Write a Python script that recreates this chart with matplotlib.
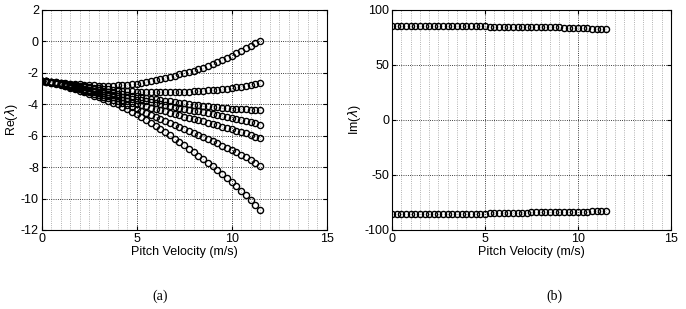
import matplotlib
matplotlib.use("Agg")
import matplotlib.pyplot as plt
from matplotlib.ticker import MultipleLocator

# pitch velocity samples (m/s)
velocity = [0.0, 0.25, 0.5, 0.75, 1.0, 1.25, 1.5, 1.75, 2.0, 2.25, 2.5, 2.75,
            3.0, 3.25, 3.5, 3.75, 4.0, 4.25, 4.5, 4.75, 5.0, 5.25, 5.5, 5.75,
            6.0, 6.25, 6.5, 6.75, 7.0, 7.25, 7.5, 7.75, 8.0, 8.25, 8.5, 8.75,
            9.0, 9.25, 9.5, 9.75, 10.0, 10.25, 10.5, 10.75, 11.0, 11.25, 11.5]

# real parts of the eigenvalues, one list per branch
re_1 = [-2.50, -2.53, -2.56, -2.59, -2.62, -2.65, -2.68, -2.71, -2.74, -2.76, -2.78, -2.80,
        -2.82, -2.82, -2.82, -2.81, -2.80, -2.78, -2.75, -2.72, -2.68, -2.63, -2.57, -2.51,
        -2.45, -2.38, -2.32, -2.25, -2.18, -2.10, -2.02, -1.94, -1.86, -1.77, -1.67, -1.56,
        -1.45, -1.32, -1.18, -1.04, -0.90, -0.75, -0.60, -0.44, -0.28, -0.12, 0.05]
re_2 = [-2.50, -2.54, -2.58, -2.61, -2.65, -2.69, -2.74, -2.78, -2.82, -2.86, -2.90, -2.94,
        -2.98, -3.02, -3.05, -3.09, -3.12, -3.14, -3.16, -3.18, -3.20, -3.21, -3.21, -3.22,
        -3.22, -3.22, -3.22, -3.22, -3.22, -3.21, -3.20, -3.19, -3.18, -3.16, -3.14, -3.12,
        -3.10, -3.07, -3.04, -3.00, -2.97, -2.92, -2.88, -2.83, -2.78, -2.72, -2.65]
re_3 = [-2.50, -2.54, -2.58, -2.63, -2.67, -2.72, -2.78, -2.83, -2.88, -2.93, -2.99, -3.04,
        -3.10, -3.16, -3.21, -3.27, -3.32, -3.37, -3.41, -3.46, -3.50, -3.55, -3.59, -3.64,
        -3.68, -3.73, -3.77, -3.82, -3.86, -3.90, -3.94, -3.98, -4.02, -4.06, -4.09, -4.13,
        -4.16, -4.19, -4.22, -4.24, -4.27, -4.29, -4.31, -4.33, -4.35, -4.37, -4.38]
re_4 = [-2.50, -2.55, -2.60, -2.64, -2.69, -2.75, -2.82, -2.88, -2.94, -3.00, -3.07, -3.13,
        -3.20, -3.27, -3.33, -3.40, -3.46, -3.52, -3.58, -3.64, -3.70, -3.76, -3.82, -3.87,
        -3.93, -3.99, -4.05, -4.10, -4.16, -4.22, -4.28, -4.34, -4.40, -4.45, -4.51, -4.56,
        -4.62, -4.68, -4.74, -4.80, -4.86, -4.93, -5.00, -5.06, -5.13, -5.21, -5.30]
re_5 = [-2.50, -2.55, -2.61, -2.66, -2.71, -2.78, -2.86, -2.93, -3.00, -3.08, -3.15, -3.23,
        -3.30, -3.38, -3.46, -3.54, -3.62, -3.71, -3.80, -3.89, -3.98, -4.06, -4.14, -4.22,
        -4.30, -4.38, -4.46, -4.54, -4.62, -4.70, -4.78, -4.85, -4.93, -5.01, -5.09, -5.17,
        -5.25, -5.33, -5.42, -5.50, -5.58, -5.67, -5.77, -5.86, -5.95, -6.06, -6.17]
re_6 = [-2.50, -2.56, -2.62, -2.67, -2.73, -2.81, -2.90, -2.98, -3.06, -3.15, -3.24, -3.33,
        -3.42, -3.52, -3.62, -3.72, -3.82, -3.94, -4.05, -4.17, -4.28, -4.41, -4.53, -4.66,
        -4.78, -4.91, -5.04, -5.17, -5.30, -5.43, -5.57, -5.70, -5.83, -5.96, -6.09, -6.22,
        -6.35, -6.49, -6.63, -6.76, -6.90, -7.06, -7.21, -7.37, -7.52, -7.74, -7.95]
re_7 = [-2.50, -2.57, -2.63, -2.70, -2.76, -2.86, -2.95, -3.05, -3.14, -3.25, -3.35, -3.46,
        -3.56, -3.67, -3.78, -3.89, -4.00, -4.16, -4.33, -4.49, -4.65, -4.83, -5.02, -5.20,
        -5.38, -5.58, -5.78, -5.98, -6.18, -6.40, -6.61, -6.83, -7.05, -7.27, -7.50, -7.72,
        -7.95, -8.20, -8.45, -8.70, -8.95, -9.23, -9.52, -9.80, -10.08, -10.40, -10.72]
re_branches = [re_1, re_2, re_3, re_4, re_5, re_6, re_7]

# imaginary parts (upper and lower branch)
im_upper = [85.2] * 21 + [84.6] * 9 + [84.1] * 7 + [83.6] * 6 + [82.9] * 4
im_lower = [-85.2] * 21 + [-84.6] * 9 + [-84.1] * 7 + [-83.6] * 6 + [-82.9] * 4

plt.rcParams['font.family'] = ['Liberation Sans', 'DejaVu Sans']
plt.rcParams['font.size'] = 9
plt.rcParams['axes.unicode_minus'] = False

fig = plt.figure(figsize=(6.86, 3.09), dpi=100)
ax1 = fig.add_axes([0.0608, 0.2557, 0.4155, 0.712])
ax2 = fig.add_axes([0.5714, 0.2557, 0.4067, 0.712])

marker_style = dict(linestyle='none', marker='o', markersize=4.4,
                    markerfacecolor='none', markeredgecolor='black', markeredgewidth=1.0)

for branch in re_branches:
    ax1.plot(velocity, branch, **marker_style)
ax2.plot(velocity, im_upper, **marker_style)
ax2.plot(velocity, im_lower, **marker_style)


def style_axes(ax, ylim, ystep, ylabel):
    ax.set_xlim(0, 15)
    ax.set_ylim(*ylim)
    ax.xaxis.set_major_locator(MultipleLocator(5))
    ax.xaxis.set_minor_locator(MultipleLocator(0.5))
    ax.yaxis.set_major_locator(MultipleLocator(ystep))
    ax.tick_params(which='major', direction='in', top=True, right=True,
                   length=3, width=0.8, labelsize=9, pad=2)
    ax.tick_params(which='minor', length=0)
    ax.grid(which='major', linestyle=':', color='black', linewidth=0.6)
    ax.grid(which='minor', axis='x', linestyle=':', color='#999999', linewidth=0.6)
    ax.set_axisbelow(True)
    for s in ax.spines.values():
        s.set_linewidth(0.8)
    ax.set_xlabel('Pitch Velocity (m/s)', fontsize=9, labelpad=1)
    ax.set_ylabel(ylabel, fontsize=9, labelpad=1)


style_axes(ax1, (-12, 2), 2, r'Re($\lambda$)')
style_axes(ax2, (-100, 100), 50, r'Im($\lambda$)')

fig.text(0.233, 0.03, '(a)', family='Liberation Serif', fontsize=10, ha='center')
fig.text(0.808, 0.03, '(b)', family='Liberation Serif', fontsize=10, ha='center')

fig.savefig('out.png', dpi=100)
